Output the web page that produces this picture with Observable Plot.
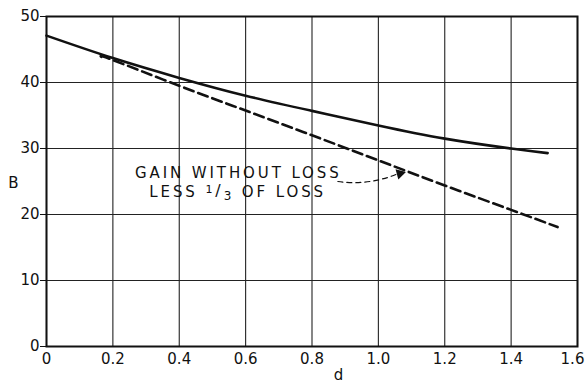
<!DOCTYPE html>
<html>
<head>
<meta charset="utf-8">
<script src="https://cdn.jsdelivr.net/npm/d3@7"></script>
<script src="https://cdn.jsdelivr.net/npm/@observablehq/plot@0.6"></script>
<style>
  body { margin: 0; background: #fff; }
  svg { font-family: "DejaVu Sans", sans-serif; }
</style>
</head>
<body>
<div id="chart"></div>
<script>
// Gain B against distance d
const dSolid = [0, 0.2, 0.4, 0.6, 0.8, 1.0, 1.2, 1.4, 1.51];
const gainSolid = [47.1, 43.7, 40.7, 38.0, 35.7, 33.5, 31.5, 30.0, 29.3];

// Gain without loss, less one third of the loss
const dDashed = [0.165, 0.2, 0.4, 0.6, 0.8, 1.0, 1.2, 1.4, 1.54];
const gainDashed = [43.9, 43.4, 39.5, 35.75, 32.0, 28.2, 24.4, 20.7, 18.1];

const xTicks = [0, 0.2, 0.4, 0.6, 0.8, 1.0, 1.2, 1.4, 1.6];
const yTicks = [0, 10, 20, 30, 40, 50];

// Callout text and its leader arrow (data coordinates)
const noteLines = [
  {x: 0.578, y: 26.2, text: "GAIN WITHOUT LOSS", spacing: 2.9},
  {x: 0.576, y: 23.4, text: "LESS 1/3 OF LOSS", spacing: 2.9}
];
const leader = [{x1: 0.878, y1: 25.0, x2: 1.053, y2: 26.06}];
const leaderHead = [{x: 1.065, y: 26.2}];

const solid = dSolid.map((d, i) => ({d, B: gainSolid[i]}));
const dashed = dDashed.map((d, i) => ({d, B: gainDashed[i]}));
const fmt = d => d === 0 ? "0" : d.toFixed(1);

const chart = Plot.plot({
  width: 586,
  height: 383,
  marginLeft: 46,
  marginRight: 9,
  marginTop: 16,
  marginBottom: 37,
  style: {fontSize: "15px", fontFamily: "DejaVu Sans, sans-serif", color: "#111", background: "#fff"},
  x: {domain: [0, 1.6]},
  y: {domain: [0, 50]},
  marks: [
    Plot.gridX(xTicks, {stroke: "#222", strokeOpacity: 1, strokeWidth: 1.1}),
    Plot.gridY(yTicks, {stroke: "#222", strokeOpacity: 1, strokeWidth: 1.1}),
    Plot.axisX(xTicks.slice(0, -1), {tickSize: 0, tickPadding: 7, label: null,
      tickFormat: fmt, fontSize: 15}),
    Plot.axisX(xTicks.slice(-1), {tickSize: 0, tickPadding: 7, label: null,
      tickFormat: fmt, fontSize: 15, dx: -5}),
    Plot.axisY({ticks: yTicks, tickSize: 6, tickPadding: 1, label: null, fontSize: 15}),
    Plot.frame({stroke: "#111", strokeWidth: 2}),
    Plot.line(solid, {x: "d", y: "B", stroke: "#111", strokeWidth: 2.6, curve: "natural"}),
    Plot.line(dashed, {x: "d", y: "B", stroke: "#111", strokeWidth: 2.6,
      strokeDasharray: "10,5", curve: "natural"}),
    Plot.text(noteLines, {x: "x", y: "y", text: "text", fontSize: 15,
      textAnchor: "middle", fill: "#111"}),
    Plot.arrow(leader, {x1: "x1", y1: "y1", x2: "x2", y2: "y2", bend: -15,
      headLength: 0, stroke: "#111", strokeWidth: 1.2, strokeDasharray: "5,4"}),
    Plot.dot(leaderHead, {x: "x", y: "y", symbol: "triangle", r: 4, fill: "#111",
      stroke: "none", rotate: 75}),
    // axis titles
    Plot.text(["B"], {y: [24.8], x: [0], dx: -33, text: d => d,
      fontSize: 15, textAnchor: "middle", fill: "#111"}),
    Plot.text(["d"], {x: [0.88], y: [0], dy: 29, text: d => d, fontSize: 15,
      textAnchor: "middle", fill: "#111"})
  ]
});

// Letter-spaced callout with a raised/lowered 1/3 fraction
const svg = d3.select(chart);
noteLines.forEach(({text, spacing}) => {
  svg.selectAll("text").filter(function () { return this.textContent === text; })
    .style("letter-spacing", `${spacing}px`)
    .each(function () {
      if (!text.includes("1/3")) return;
      const [before, after] = text.split("1/3");
      const line = d3.select(this).text(before);
      line.append("tspan").attr("dy", "-4").style("font-size", "11px").text("1");
      line.append("tspan").attr("dy", "3").style("font-size", "16px").text("/");
      line.append("tspan").attr("dy", "4").style("font-size", "12px").text("3");
      line.append("tspan").attr("dy", "-3").text(after);
    });
});

document.getElementById("chart").append(chart);
</script>
</body>
</html>
